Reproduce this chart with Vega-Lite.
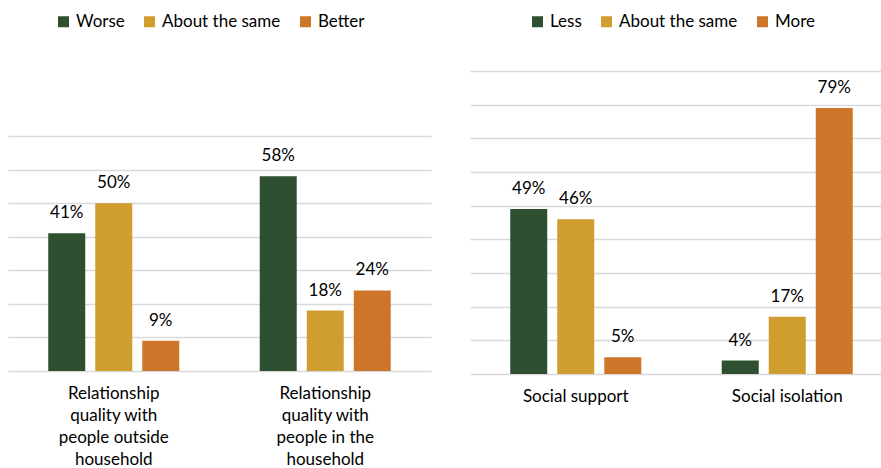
{
  "$schema": "https://vega.github.io/schema/vega-lite/v6.json",
  "background": "white",
  "padding": {"left": 8, "top": 13, "right": 0, "bottom": 0},
  "autosize": {"type": "pad"},
  "spacing": 39,
  "config": {
    "font": "Lato",
    "view": {"stroke": null},
    "axis": {"labelFont": "Lato", "labelFontSize": 17, "labelColor": "#000000"},
    "legend": {"labelFont": "Lato", "labelFontSize": 17, "labelColor": "#000000"}
  },
  "datasets": {
    "relationships": [
      {"aspect": "Relationship quality with people outside household", "response": "Worse", "share": 0.41},
      {"aspect": "Relationship quality with people outside household", "response": "About the same", "share": 0.50},
      {"aspect": "Relationship quality with people outside household", "response": "Better", "share": 0.09},
      {"aspect": "Relationship quality with people in the household", "response": "Worse", "share": 0.58},
      {"aspect": "Relationship quality with people in the household", "response": "About the same", "share": 0.18},
      {"aspect": "Relationship quality with people in the household", "response": "Better", "share": 0.24}
    ],
    "social": [
      {"aspect": "Social support", "response": "Less", "share": 0.49},
      {"aspect": "Social support", "response": "About the same", "share": 0.46},
      {"aspect": "Social support", "response": "More", "share": 0.05},
      {"aspect": "Social isolation", "response": "Less", "share": 0.04},
      {"aspect": "Social isolation", "response": "About the same", "share": 0.17},
      {"aspect": "Social isolation", "response": "More", "share": 0.79}
    ]
  },
  "hconcat": [
    {
      "width": 423,
      "height": 303,
      "data": {"name": "relationships"},
      "encoding": {
        "x": {
          "field": "aspect",
          "type": "nominal",
          "sort": ["Relationship quality with people outside household", "Relationship quality with people in the household"],
          "scale": {"paddingInner": 0, "paddingOuter": 0},
          "title": null,
          "axis": {
            "domain": false,
            "ticks": false,
            "labelAngle": 0,
            "offset": -3,
            "labelPadding": 14,
            "labelLineHeight": 22,
            "labelLimit": 300,
            "labelExpr": "datum.value == 'Relationship quality with people outside household' ? ['Relationship', 'quality with', 'people outside', 'household'] : ['Relationship', 'quality with', 'people in the', 'household']"
          }
        },
        "xOffset": {"field": "response", "type": "nominal", "sort": ["Worse", "About the same", "Better"], "scale": {"paddingInner": 0.213, "paddingOuter": 0.856}},
        "y": {
          "field": "share",
          "type": "quantitative",
          "scale": {"domain": [0, 0.7], "range": [300, 65]},
          "title": null,
          "axis": {"labels": false, "ticks": false, "domain": false, "grid": true, "gridColor": "#d9d9d9", "gridWidth": 1.5, "values": [0, 0.1, 0.2, 0.3, 0.4, 0.5, 0.6, 0.7]}
        }
      },
      "layer": [
        {
          "mark": {"type": "bar"},
          "encoding": {
            "color": {
              "field": "response",
              "type": "nominal",
              "sort": ["Worse", "About the same", "Better"],
              "scale": {"domain": ["Worse", "About the same", "Better"], "range": ["#2e5031", "#d09d2f", "#cd762a"]},
              "legend": {"title": null, "orient": "none", "direction": "horizontal", "legendX": 47, "legendY": -58, "symbolType": "square", "symbolSize": 121, "symbolStrokeWidth": 0, "labelOffset": 4, "columnPadding": 16, "padding": 0}
            }
          }
        },
        {
          "mark": {"type": "text", "baseline": "alphabetic", "dy": -15, "fontSize": 17, "color": "#000000"},
          "encoding": {"text": {"field": "share", "type": "quantitative", "format": ".0%"}}
        }
      ]
    },
    {
      "width": 411,
      "height": 303,
      "data": {"name": "social"},
      "encoding": {
        "x": {
          "field": "aspect",
          "type": "nominal",
          "sort": ["Social support", "Social isolation"],
          "scale": {"paddingInner": 0, "paddingOuter": 0, "range": [0, 423]},
          "title": null,
          "axis": {"domain": false, "ticks": false, "labelAngle": 0, "labelPadding": 14, "labelLimit": 300}
        },
        "xOffset": {"field": "response", "type": "nominal", "sort": ["Less", "About the same", "More"], "scale": {"paddingInner": 0.213, "paddingOuter": 0.856}},
        "y": {
          "field": "share",
          "type": "quantitative",
          "scale": {"domain": [0, 0.9]},
          "title": null,
          "axis": {"labels": false, "ticks": false, "domain": false, "grid": true, "gridColor": "#d9d9d9", "gridWidth": 1.5, "values": [0, 0.1, 0.2, 0.3, 0.4, 0.5, 0.6, 0.7, 0.8, 0.9]}
        }
      },
      "layer": [
        {
          "mark": {"type": "bar"},
          "encoding": {
            "color": {
              "field": "response",
              "type": "nominal",
              "sort": ["Less", "About the same", "More"],
              "scale": {"domain": ["Less", "About the same", "More"], "range": ["#2e5031", "#d09d2f", "#cd762a"]},
              "legend": {"title": null, "orient": "none", "direction": "horizontal", "legendX": 59, "legendY": -58, "symbolType": "square", "symbolSize": 121, "symbolStrokeWidth": 0, "labelOffset": 4, "columnPadding": 16, "padding": 0}
            }
          }
        },
        {
          "mark": {"type": "text", "baseline": "alphabetic", "dy": -15, "fontSize": 17, "color": "#000000"},
          "encoding": {"text": {"field": "share", "type": "quantitative", "format": ".0%"}}
        }
      ]
    }
  ],
  "resolve": {
    "scale": {"x": "independent", "y": "independent", "xOffset": "independent", "color": "independent"},
    "legend": {"color": "independent"}
  }
}
